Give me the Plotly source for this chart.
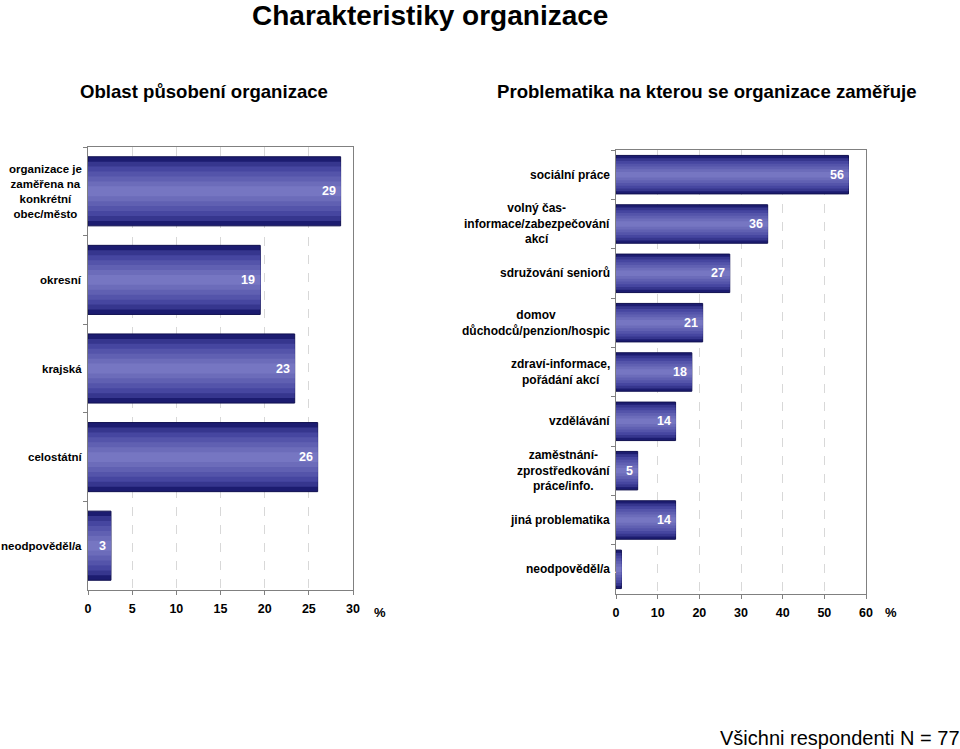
import plotly.graph_objects as go

# ---- data ----
left_categories = ["organizace je<br>zaměřena na<br>konkrétní<br>obec/město", "okresní", "krajská", "celostátní", "neodpověděl/a"]
left_values = [28.6, 19.5, 23.4, 26.0, 2.6]
left_labels = ["29", "19", "23", "26", "3"]
left_ticks = [0, 5, 10, 15, 20, 25, 30]

right_categories = ["sociální práce", "volný čas-<br>informace/zabezpečování<br>akcí", "sdružování seniorů",
                    "domov<br>důchodců/penzion/hospic", "zdraví-informace,<br>pořádání akcí", "vzdělávání",
                    "zaměstnání-<br>zprostředkování<br>práce/info.", "jiná problematika", "neodpověděl/a"]
right_values = [55.8, 36.4, 27.3, 20.8, 18.2, 14.3, 5.2, 14.3, 1.3]
right_labels = ["56", "36", "27", "21", "18", "14", "5", "14", "1"]
right_ticks = [0, 10, 20, 30, 40, 50, 60]

FONT = "Arial, Liberation Sans, sans-serif"
grad = ["#1c1c70", "#36368e", "#4646a0", "#5454aa", "#6060b2", "#6c6cba", "#7676c2"]
BAR_W = 0.78

fig = go.Figure()

def add_bars(cats, vals, xa, ya):
    n = len(grad)
    for i, c in enumerate(grad):
        w = BAR_W * (1 - i / n)
        fig.add_trace(go.Bar(
            y=cats, x=vals, orientation="h", xaxis=xa, yaxis=ya,
            width=[w] * len(cats),
            marker=dict(color=c, line=dict(color="#101050" if i == 0 else c, width=1 if i == 0 else 0)),
            hoverinfo="skip", showlegend=False))

add_bars(left_categories, left_values, "x", "y")
add_bars(right_categories, right_values, "x2", "y2")

axis_common = dict(showline=True, linecolor="#808080", linewidth=1, mirror=True, automargin=False,
                   ticks="outside", ticklen=4, tickcolor="#808080",
                   tickfont=dict(family=FONT, size=12.5, color="black", weight="bold"))

fig.update_layout(
    width=960, height=749, margin=dict(l=0, r=0, t=0, b=0, pad=0, autoexpand=False),
    paper_bgcolor="white", plot_bgcolor="white", barmode="overlay",
    xaxis=dict(domain=[88/960, 353/960], range=[0, 30], tickvals=left_ticks, ticklabelstandoff=3,
               showgrid=True, gridcolor="#d8d8d8", griddash="dash", zeroline=False, anchor="y", **axis_common),
    yaxis=dict(domain=[1 - 590/749, 1 - 147/749], type="category", categoryorder="array",
               categoryarray=left_categories, autorange="reversed", showticklabels=False,
               tickson="boundaries", anchor="x", **axis_common),
    xaxis2=dict(domain=[616/960, 866/960], range=[0, 60], tickvals=right_ticks, ticklabelstandoff=3,
                showgrid=True, gridcolor="#d8d8d8", griddash="dash", zeroline=False, anchor="y2", **axis_common),
    yaxis2=dict(domain=[1 - 594/749, 1 - 150/749], type="category", categoryorder="array",
                categoryarray=right_categories, autorange="reversed", showticklabels=False,
                tickson="boundaries", anchor="x2", **axis_common),
)

ann = []
def add_labels(cats, vals, labels, xr, yr, dref, lsize):
    for c, v, t in zip(cats, vals, labels):
        ann.append(dict(x=v, y=c, xref=xr, yref=yr, text=t, showarrow=False, xanchor="right", xshift=-3,
                        font=dict(family=FONT, size=12.5, color="white", weight="bold")))
        ann.append(dict(x=0, y=c, xref=dref, yref=yr, text=c, showarrow=False, xanchor="right", xshift=-4,
                        align="center", font=dict(family=FONT, size=lsize, color="black", weight="bold")))

add_labels(left_categories, left_values, left_labels, "x", "y", "x domain", 11.5)
add_labels(right_categories, right_values, right_labels, "x2", "y2", "x2 domain", 12)

ann += [
    dict(x=430/960, y=1 - 15/749, xref="paper", yref="paper", text="Charakteristiky organizace", showarrow=False,
         xanchor="center", yanchor="middle", font=dict(family=FONT, size=28, color="black", weight="bold")),
    dict(x=204/960, y=1 - 91/749, xref="paper", yref="paper", text="Oblast působení organizace", showarrow=False,
         xanchor="center", yanchor="middle", font=dict(family=FONT, size=18.6, color="black", weight="bold")),
    dict(x=707/960, y=1 - 91/749, xref="paper", yref="paper", text="Problematika na kterou se organizace zaměřuje",
         showarrow=False, xanchor="center", yanchor="middle", font=dict(family=FONT, size=18.6, color="black", weight="bold")),
    dict(x=380/960, y=1 - 612/749, xref="paper", yref="paper", text="%", showarrow=False,
         xanchor="center", yanchor="middle", font=dict(family=FONT, size=13, color="black", weight="bold")),
    dict(x=891/960, y=1 - 612/749, xref="paper", yref="paper", text="%", showarrow=False,
         xanchor="center", yanchor="middle", font=dict(family=FONT, size=13, color="black", weight="bold")),
    dict(x=840/960, y=1 - 738/749, xref="paper", yref="paper", text="Všichni respondenti N = 77", showarrow=False,
         xanchor="center", yanchor="middle", font=dict(family=FONT, size=20, color="black")),
]
fig.update_layout(annotations=ann)

fig.write_html("out.html", config={"displayModeBar": False},
               post_script="document.body.style.margin='0';document.body.style.overflow='hidden';")
